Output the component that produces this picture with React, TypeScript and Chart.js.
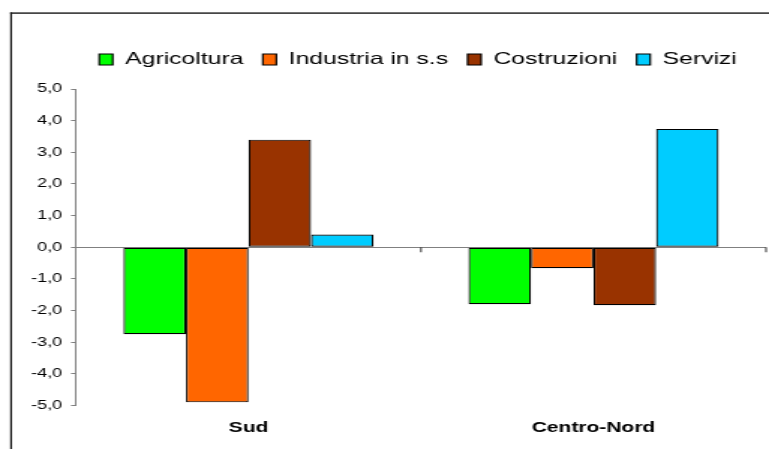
import React, { useEffect, useRef } from 'react';
import { Chart, registerables } from 'chart.js';

Chart.register(...registerables);

// ---- data ----
const categories = ['Sud', 'Centro-Nord'];
const seriesNames = ['Agricoltura', 'Industria in s.s', 'Costruzioni', 'Servizi'];
const agricoltura = [-2.75, -1.8];
const industria = [-4.9, -0.66];
const costruzioni = [3.4, -1.83];
const servizi = [0.4, 3.74];
const seriesColors = ['#00FF00', '#FF6600', '#993300', '#00CCFF'];
const yMin = -5;
const yMax = 5;
const yStep = 1;

// ---- geometry of the (horizontally stretched) picture ----
const CSS_W = 769;
const CSS_H = 449;
const STRETCH = 1.5;
const W = Math.round(CSS_W / STRETCH);
const H = CSS_H;
const FONT = '"Liberation Sans", Arial, Helvetica, sans-serif';

const legendGapPlugin = {
  id: 'legendGap',
  beforeLayout(chart: any) {
    const lg = chart.legend;
    if (lg && !lg.__gap) {
      const orig = lg.fit;
      lg.fit = function () {
        orig.call(this);
        this.height += 11.25;
      };
      lg.__gap = true;
    }
  },
  afterLayout(chart: any) {
    const lg = chart.legend;
    if (lg) {
      lg.left -= 2;
      lg.right -= 2;
    }
  },
};

const framePlugin = {
  id: 'frame',
  beforeDraw(chart: any) {
    const ctx = chart.ctx;
    ctx.save();
    ctx.fillStyle = '#ffffff';
    ctx.fillRect(0, 0, chart.width, chart.height);
    ctx.fillStyle = '#1a1a1a';
    ctx.fillRect(6.8, 12.4, chart.width, 1.4);
    ctx.fillRect(6.8, 12.4, 1.2, chart.height);
    ctx.restore();
  },
};

const zeroTicksPlugin = {
  id: 'zeroTicks',
  afterDatasetsDraw(chart: any) {
    const xs = chart.scales.x;
    const ys = chart.scales.y;
    const y0 = ys.getPixelForValue(0);
    const n = chart.data.labels.length;
    const ctx = chart.ctx;
    ctx.save();
    ctx.strokeStyle = '#333333';
    ctx.lineWidth = 1;
    for (let i = 1; i <= n; i++) {
      const px = xs.left + (i * xs.width) / n;
      ctx.beginPath();
      ctx.moveTo(px, y0);
      ctx.lineTo(px, y0 + 5);
      ctx.stroke();
    }
    ctx.restore();
  },
};

export default function App() {
  const ref = useRef<HTMLCanvasElement | null>(null);

  useEffect(() => {
    if (!ref.current) return;
    const seriesValues = [agricoltura, industria, costruzioni, servizi];
    const chart = new Chart(ref.current, {
      type: 'bar',
      data: {
        labels: categories,
        datasets: seriesNames.map((name, i) => ({
          label: name,
          data: seriesValues[i],
          backgroundColor: seriesColors[i],
          borderColor: '#000000',
          borderWidth: { left: 1.2, right: 1.2, top: 1.2, bottom: 1.2 },
          borderSkipped: false,
          categoryPercentage: 0.725,
          barPercentage: 1,
        })),
      },
      options: {
        responsive: false,
        maintainAspectRatio: false,
        devicePixelRatio: 1,
        animation: false,
        layout: { padding: { left: 10, right: 2, top: 38.25, bottom: 10.7 } },
        plugins: {
          legend: {
            display: true,
            position: 'top',
            align: 'center',
            fullSize: false,
            labels: {
              boxWidth: 9,
              boxHeight: 11,
              padding: 13,
              color: '#000000',
              font: { family: FONT, size: 16.5 },
            },
          },
          title: { display: false },
          tooltip: { enabled: false },
        },
        scales: {
          x: {
            type: 'category',
            position: 'bottom',
            afterFit(scale: any) {
              scale.height = 32.8;
            },
            grid: { display: false, drawTicks: false },
            border: { display: false },
            ticks: {
              color: '#000000',
              padding: 14,
              font: { family: FONT, size: 14, weight: 'bold' },
            },
          },
          y: {
            min: yMin,
            max: yMax,
            afterFit(scale: any) {
              scale.width = 40.7;
            },
            grid: {
              drawOnChartArea: true,
              drawTicks: true,
              tickLength: 3.3,
              tickColor: '#808080',
              color: (c: any) => (c.tick && c.tick.value === 0 ? '#808080' : 'rgba(0,0,0,0)'),
              lineWidth: 1,
            },
            border: { display: true, color: '#808080', width: 1 },
            ticks: {
              stepSize: yStep,
              color: '#000000',
              padding: 6,
              font: { family: FONT, size: 12 },
              callback: (v: any) => Number(v).toFixed(1).replace('.', ','),
            },
          },
        },
      },
      plugins: [legendGapPlugin, framePlugin, zeroTicksPlugin],
    } as any);
    return () => chart.destroy();
  }, []);

  return (
    <div style={{ position: 'fixed', left: 0, top: 0, width: CSS_W, height: CSS_H, background: '#fff' }}>
      <canvas
        ref={ref}
        width={W}
        height={H}
        style={{ width: CSS_W + 'px', height: CSS_H + 'px', display: 'block' }}
      />
    </div>
  );
}
